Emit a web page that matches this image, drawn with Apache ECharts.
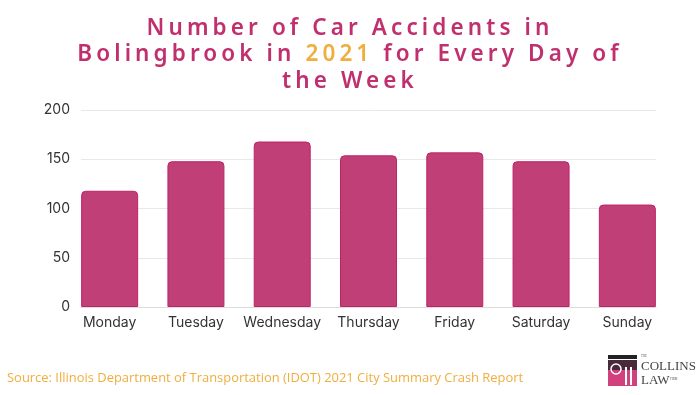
<!DOCTYPE html>
<html>
<head>
<meta charset="utf-8">
<script src="https://cdn.jsdelivr.net/npm/echarts@6/dist/echarts.min.js"></script>
<style>
html,body{margin:0;padding:0;background:#fff;}
#c{width:700px;height:395px;}
</style>
</head>
<body>
<div id="c"></div>
<script>
var days = ['Monday','Tuesday','Wednesday','Thursday','Friday','Saturday','Sunday'];
var accidents = [118, 148, 168, 154, 157, 148, 104];
var yTicks = [0, 50, 100, 150, 200];
var titleLine1 = 'Number of Car Accidents in';
var titleLine2a = 'Bolingbrook in ';
var titleYear = '2021';
var titleLine2b = ' for Every Day of';
var titleLine3 = 'the Week';
var sourceText = 'Source: Illinois Department of Transportation (IDOT) 2021 City Summary Crash Report';

// Letter-spaced title: apply canvas letterSpacing only to the title font (Noto Sans)
(function () {
  var P = CanvasRenderingContext2D.prototype;
  var SP = '4.1px';
  function wrap(name) {
    var orig = P[name];
    P[name] = function () {
      var f = this.font || '';
      if (f.indexOf('Noto Sans') >= 0 && 'letterSpacing' in this) {
        var prev = this.letterSpacing;
        this.letterSpacing = SP;
        var r = orig.apply(this, arguments);
        this.letterSpacing = prev;
        return r;
      }
      return orig.apply(this, arguments);
    };
  }
  wrap('measureText');
  wrap('fillText');
  wrap('strokeText');
})();

var pink = '#c0306e';
var orange = '#f0ae3e';
var tFont = {fontFamily: 'Noto Sans', fontSize: 22.5, fontWeight: 600, lineHeight: 27};

function ts(c) { return Object.assign({color: c}, tFont); }

var chart = echarts.init(document.getElementById('c'), null, {renderer: 'canvas'});
chart.setOption({
  backgroundColor: '#fff',
  animation: false,
  title: [
    {text: titleLine1, left: 'center', top: 15, padding: [0, 0, 0, 4], textStyle: ts(pink)},
    {text: '{p|' + titleLine2a + '}{o|' + titleYear + '}{p|' + titleLine2b + '}', left: 'center', top: 41, padding: [0, 0, 0, 4],
     textStyle: Object.assign(ts(pink), {rich: {p: ts(pink), o: ts(orange)}})},
    {text: titleLine3, left: 'center', top: 68, padding: [0, 0, 0, 4], textStyle: ts(pink)}
  ],
  grid: [
    {left: 81, right: 44, top: 110, bottom: 88, containLabel: false},
    {left: 66.5, right: 29.5, top: 110, bottom: 88, containLabel: false}
  ],
  xAxis: [
    {type: 'category', gridIndex: 0, data: days,
     axisLine: {show: true, lineStyle: {color: '#dcdcdc', width: 1}},
     axisTick: {show: false}, axisLabel: {show: false}, splitLine: {show: false}},
    {type: 'category', gridIndex: 1, data: days,
     axisLine: {show: false}, axisTick: {show: false}, splitLine: {show: false},
     axisLabel: {interval: 0, color: '#333', fontFamily: 'Inter', fontSize: 14, margin: 9}}
  ],
  yAxis: [
    {type: 'value', gridIndex: 0,
     min: yTicks[0], max: yTicks[yTicks.length - 1], interval: yTicks[1] - yTicks[0],
     axisLine: {show: false}, axisTick: {show: false},
     splitLine: {lineStyle: {color: '#e8e8e8', width: 1}},
     axisLabel: {color: '#333', fontFamily: 'Inter', fontSize: 14, margin: 11}},
    {type: 'value', gridIndex: 1,
     min: yTicks[0], max: yTicks[yTicks.length - 1], interval: yTicks[1] - yTicks[0],
     show: false}
  ],
  series: [{
    type: 'bar',
    xAxisIndex: 1,
    yAxisIndex: 1,
    data: accidents,
    barWidth: 57,
    itemStyle: {color: '#bf3f76', borderColor: '#c0226a', borderWidth: 1, borderRadius: [4, 4, 0, 0]}
  }],
  graphic: [
    {type: 'text', left: 7, top: 372, style: {text: sourceText, fill: orange, font: '12.95px "Open Sans"'}},
    {type: 'group', left: 608, top: 355, children: [
      {type: 'rect', shape: {x: 0, y: 0, width: 29, height: 4}, style: {fill: '#222'}},
      {type: 'rect', shape: {x: 0, y: 5, width: 29, height: 26}, style: {fill: '#d0417e'}},
      {type: 'rect', shape: {x: 0, y: 5, width: 29, height: 10}, style: {fill: '#4a2a3a'}},
      {type: 'circle', shape: {cx: 8, cy: 14, r: 5}, style: {fill: 'none', stroke: '#fff', lineWidth: 1.5}},
      {type: 'rect', shape: {x: 17, y: 12, width: 2, height: 18}, style: {fill: '#fff'}},
      {type: 'rect', shape: {x: 22, y: 12, width: 2, height: 18}, style: {fill: '#fff'}}
    ]},
    {type: 'text', left: 641, top: 355, style: {text: 'THE', fill: '#555', font: '3px "Liberation Serif"'}},
    {type: 'text', left: 641, top: 360, style: {text: 'COLLINS', fill: '#444', font: '13px "Liberation Serif"'}},
    {type: 'text', left: 641, top: 374, style: {text: 'LAW', fill: '#444', font: '13px "Liberation Serif"'}},
    {type: 'text', left: 670, top: 378, style: {text: 'FIRM', fill: '#555', font: '3px "Liberation Serif"'}}
  ]
});
</script>
</body>
</html>
